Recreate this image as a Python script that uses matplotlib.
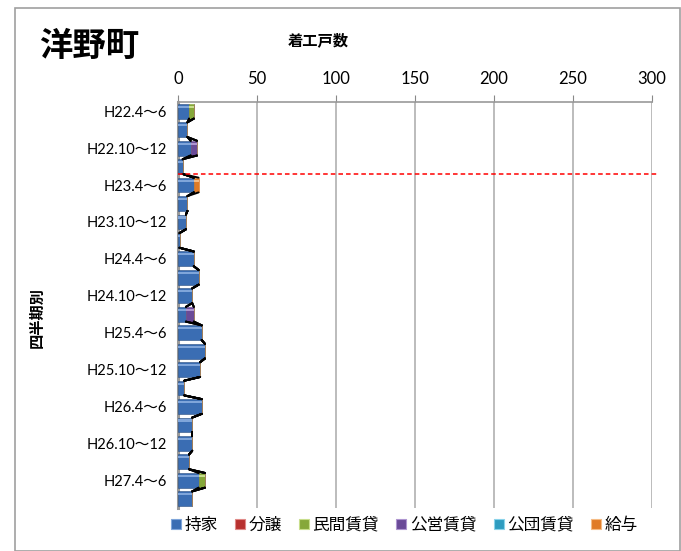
import numpy as np
import matplotlib.pyplot as plt
from matplotlib.patches import Rectangle
from matplotlib.lines import Line2D

plt.rcParams['font.family'] = ['Lato', 'Noto Sans CJK JP', 'DejaVu Sans']

# 四半期ごとの着工戸数（利用関係別）
quarters = ['H22.4～6', 'H22.7～9', 'H22.10～12', 'H23.1～3',
            'H23.4～6', 'H23.7～9', 'H23.10～12', 'H24.1～3',
            'H24.4～6', 'H24.7～9', 'H24.10～12', 'H25.1～3',
            'H25.4～6', 'H25.7～9', 'H25.10～12', 'H26.1～3',
            'H26.4～6', 'H26.7～9', 'H26.10～12', 'H27.1～3',
            'H27.4～6', 'H27.7～9']
mochiie = [7, 6, 8, 3, 10, 6, 5, 1, 10, 13, 9, 5, 15, 17, 14, 4, 15, 9, 9, 7, 13, 9]
bunjo = [0] * 22
minkan = [3, 0, 0, 0, 0, 0, 0, 0, 0, 0, 0, 0, 0, 0, 0, 0, 0, 0, 0, 0, 4, 0]
koei = [0, 0, 4, 0, 0, 0, 0, 0, 0, 0, 0, 5, 0, 0, 0, 0, 0, 0, 0, 0, 0, 0]
kodan = [0] * 22
kyuyo = [0, 0, 0, 0, 3, 0, 0, 0, 0, 0, 0, 0, 0, 0, 0, 0, 0, 0, 0, 0, 0, 0]

series_names = ['持家', '分譲', '民間賃貸', '公営賃貸', '公団賃貸', '給与']
series_vals = [mochiie, bunjo, minkan, koei, kodan, kyuyo]
face = ['#3A6DB3', '#B8312F', '#86A83A', '#6A4A98', '#2E9CC0', '#E07B26']
light = ['#7FA5DA', '#E08A88', '#C8DE8C', '#AE95D0', '#8AD3EA', '#F5BB84']
marker_line = 3.4  # 基準線の位置（H23.4～6 の上寄り）

fig = plt.figure(figsize=(6.81, 5.51), dpi=100)
ax = fig.add_axes([178 / 681, 1 - 508 / 551, 474 / 681, 406 / 551])

y = np.arange(len(quarters))
h = 0.8
left = np.zeros(len(quarters))
for name, vals, fc, lc in zip(series_names, series_vals, face, light):
    vals = np.array(vals, dtype=float)
    ax.barh(y, vals, left=left, height=h, color=fc, edgecolor='#2A4E80' if fc == face[0] else fc,
            linewidth=0.4, zorder=3)
    # 上側のハイライト
    ax.barh(y - h * 0.3, vals, left=left, height=h * 0.14, color=lc, linewidth=0, zorder=4)
    left = left + vals

    # 系列線
    for i in range(len(quarters) - 1):
        ax.plot([left[i], left[i + 1]], [y[i] + h / 2, y[i + 1] - h / 2],
                color='black', lw=1.4, zorder=5, solid_capstyle='round')

ax.plot([0, 303], [marker_line, marker_line], color='#FF0000', lw=1.1,
        ls=(0, (3, 2)), zorder=6, clip_on=False)

ax.set_xlim(0, 300)
ax.set_ylim(len(quarters) - 0.5, -0.5)
ax.xaxis.tick_top()
ax.set_xticks(np.arange(0, 301, 50))
ax.tick_params(axis='x', direction='out', length=5, color='#888888', labelsize=12, pad=6)
ax.set_yticks(y[::2])
ax.set_yticklabels(quarters[::2], fontsize=10.5)
ax.tick_params(axis='y', length=0, pad=8)
ax.grid(axis='x', color='#B0B0B0', lw=1.2, zorder=0)
for s in ['right', 'bottom']:
    ax.spines[s].set_visible(False)
ax.spines['left'].set_color('#999999')
ax.spines['left'].set_linewidth(2.2)
ax.spines['top'].set_color('#999999')
ax.spines['top'].set_linewidth(1.2)

fig.text(39 / 681, 1 - 46 / 551, '洋野町', fontsize=24, fontweight='bold',
         va='center', ha='left', family=['Noto Sans CJK JP'])
fig.text(318 / 681, 1 - 40 / 551, '着工戸数', fontsize=11, fontweight='bold',
         va='center', ha='center', family=['Noto Sans CJK JP'])
fig.text(37 / 681, 1 - 318 / 551, '四半期別', fontsize=11, fontweight='bold',
         va='center', ha='center', rotation=90, family=['Noto Sans CJK JP'])

# 外枠
fig.patches.append(Rectangle((15 / 681, 0), 665 / 681, 1 - 8 / 551, transform=fig.transFigure,
                             fill=False, edgecolor='#A0A0A0', lw=1.2))

handles = [Line2D([], [], marker='s', ls='none', markersize=7.5, markerfacecolor=fc,
                  markeredgecolor=lc, markeredgewidth=0.8) for fc, lc in zip(face, light)]
fig.legend(handles, series_names, loc='center', bbox_to_anchor=(403 / 681, 1 - 525 / 551),
           ncol=6, frameon=False, handletextpad=0.05, columnspacing=0.9,
           handlelength=0.9, prop={'family': ['Noto Sans CJK JP'], 'size': 12})

fig.savefig('out.png', dpi=100)
